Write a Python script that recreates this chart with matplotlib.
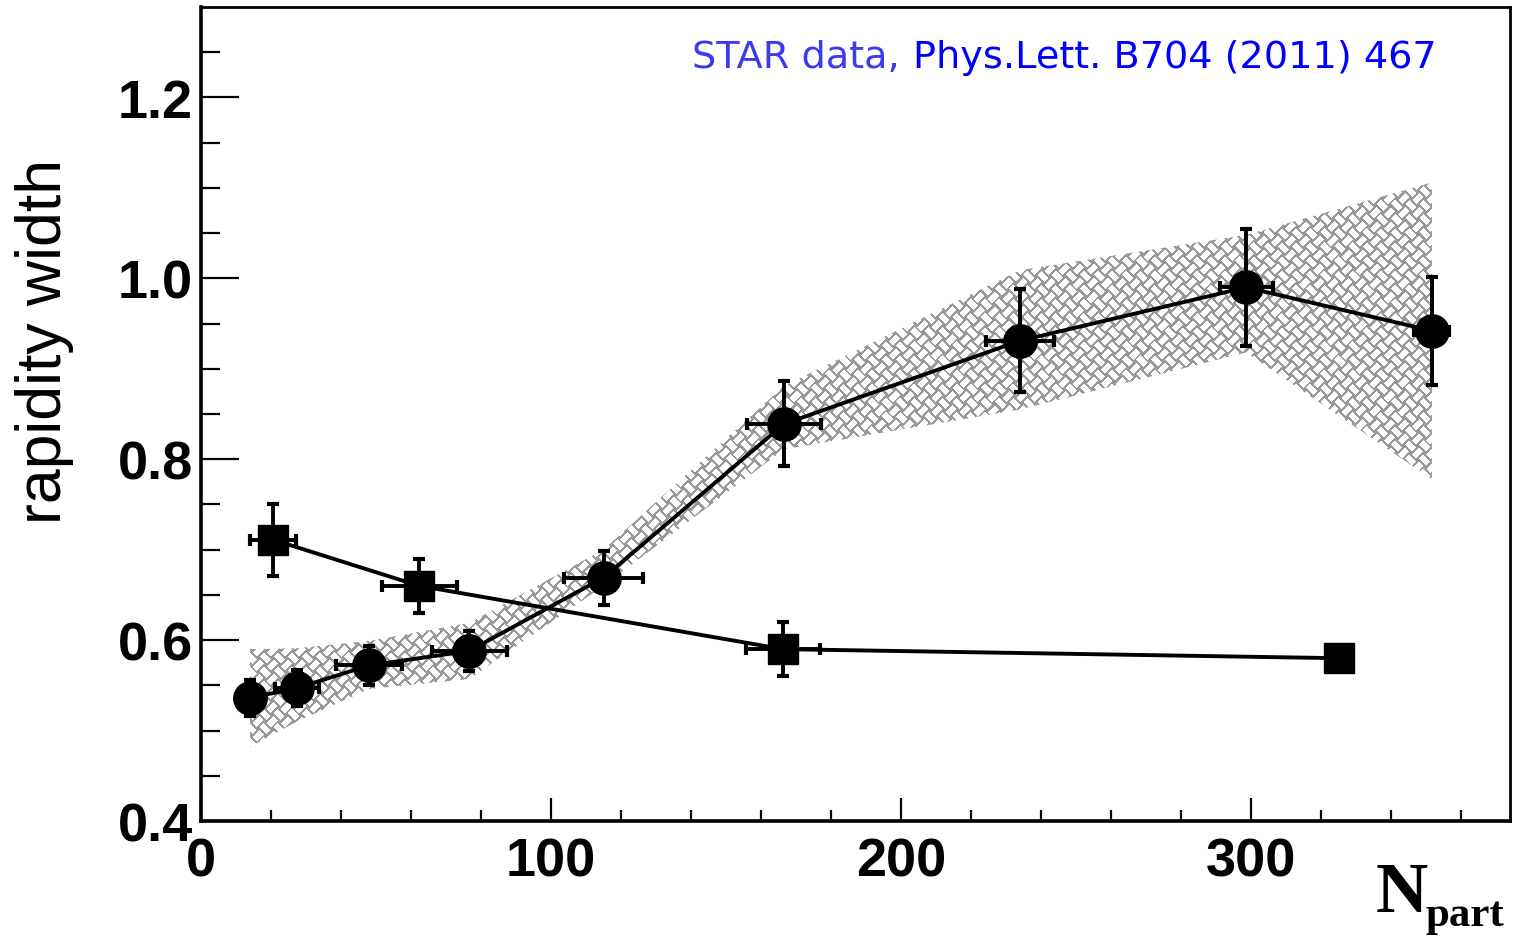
import numpy as np
import matplotlib
matplotlib.use("Agg")
import matplotlib.pyplot as plt
from matplotlib.patches import Polygon

# ---------------- data ----------------
npart_circ = [14.0, 27.4, 48.0, 76.6, 115.0, 166.6, 234.0, 298.6, 351.7]
width_circ = [0.536, 0.547, 0.572, 0.588, 0.669, 0.839, 0.931, 0.990, 0.942]
xerr_circ = [4.0, 6.3, 9.3, 10.7, 11.4, 10.6, 9.7, 7.6, 5.0]
yerr_circ = [0.020, 0.020, 0.022, 0.022, 0.030, 0.047, 0.057, 0.065, 0.060]

band_upper = [0.590, 0.591, 0.599, 0.619, 0.700, 0.881, 1.009, 1.048, 1.106]
band_lower = [0.482, 0.510, 0.546, 0.557, 0.660, 0.811, 0.855, 0.918, 0.778]

npart_sq = [20.6, 62.3, 166.3, 325.0]
width_sq = [0.711, 0.660, 0.590, 0.580]
xerr_sq = [6.6, 10.7, 10.6, 0.0]
yerr_sq = [0.040, 0.030, 0.030, 0.0]

xlim = (0, 374)
ylim = (0.4, 1.3)
xticks_major = [0, 100, 200, 300]
yticks_major = [0.4, 0.6, 0.8, 1.0, 1.2]
ytick_labels = ["0.4", "0.6", "0.8", "1.0", "1.2"]
ylabel = "rapidity width"
ref_text1 = "STAR data,"
ref_text2 = "Phys.Lett. B704 (2011) 467"

# ---------------- figure ----------------
W, H = 1522, 937
fig = plt.figure(figsize=(W / 100, H / 100), dpi=100)
L, R, B, T = 201 / W, 1510 / W, 1 - 822 / H, 1 - 8 / H
ax = fig.add_axes([L, B, R - L, T - B])

# woven texture for the band
aw, ah = int(round((R - L) * W)), int(round((T - B) * H))
yy, xx = np.mgrid[0:ah, 0:aw]
cell = 10.0
u = (xx + yy) / np.sqrt(2)
v = (xx - yy) / np.sqrt(2)
i = np.floor(u / cell).astype(int)
j = np.floor(v / cell).astype(int)
fu = u / cell - i
fv = v / cell - j
horiz = ((i + j) % 2 == 0)
white = np.where(horiz, (fv > 0.22) & (fv < 0.8), (fu > 0.22) & (fu < 0.8))
tex = np.ones((ah, aw, 3))
tex[~white] = 0.6

poly_pts = list(zip(npart_circ, band_upper)) + list(zip(npart_circ[::-1], band_lower[::-1]))
poly = Polygon(poly_pts, closed=True, facecolor="none", edgecolor="none")
ax.add_patch(poly)
im = ax.imshow(tex, extent=[xlim[0], xlim[1], ylim[0], ylim[1]], origin="upper",
               aspect="auto", interpolation="nearest", zorder=1)
im.set_clip_path(poly)

# squares series
ax.errorbar(npart_sq, width_sq, xerr=xerr_sq, yerr=yerr_sq, fmt="s-", color="black",
            ms=22, mec="black", lw=2.8, elinewidth=2.8, capsize=4.5, capthick=3, zorder=3)
# circles series
ax.errorbar(npart_circ, width_circ, xerr=xerr_circ, yerr=yerr_circ, fmt="o-", color="black",
            ms=24, lw=2.8, elinewidth=2.8, capsize=4.5, capthick=3, zorder=4)

ax.set_xlim(*xlim)
ax.set_ylim(*ylim)

ax.set_xticks(xticks_major)
ax.set_xticks(np.arange(20, 374, 20), minor=True)
ax.set_yticks(yticks_major)
ax.set_yticklabels(ytick_labels)
ax.set_yticks(np.arange(0.45, 1.3, 0.05), minor=True)

ax.tick_params(axis="x", which="major", direction="in", length=16.5, width=1.6,
               top=False, pad=11, labelsize=39)
ax.tick_params(axis="x", which="minor", direction="in", length=8, width=1.6, top=False)
ax.tick_params(axis="y", which="major", direction="in", length=27, width=1.6,
               right=False, pad=6, labelsize=39)
ax.tick_params(axis="y", which="minor", direction="in", length=13.5, width=1.6, right=False)
for lab in ax.get_xticklabels() + ax.get_yticklabels():
    lab.set_fontfamily("Liberation Sans")
    lab.set_fontweight("bold")

for s in ["left", "bottom"]:
    ax.spines[s].set_linewidth(2.6)
for s in ["right", "top"]:
    ax.spines[s].set_linewidth(2.0)

fig.text(45 / W, 1 - 341 / H, ylabel, rotation=90, ha="center", va="center",
         fontsize=45, family="Liberation Sans")

t1 = fig.text(692 / W, 1 - 58 / H, ref_text1, ha="left", va="center", fontsize=27.5,
              family="DejaVu Sans", color="#3a3af0")
fig.canvas.draw()
bb = t1.get_window_extent()
fig.text((bb.x1 + 13) / W, 1 - 58 / H, ref_text2, ha="left", va="center", fontsize=27.5,
         family="DejaVu Sans", color="#0000ff")

fig.text(1376 / W, 1 - 912 / H, "N", ha="left", va="baseline", fontsize=52,
         family="Liberation Serif", fontweight="bold")
fig.text(1426 / W, 1 - 926 / H, "part", ha="left", va="baseline", fontsize=31,
         family="Liberation Serif", fontweight="bold")

fig.savefig("out.png", dpi=100)
